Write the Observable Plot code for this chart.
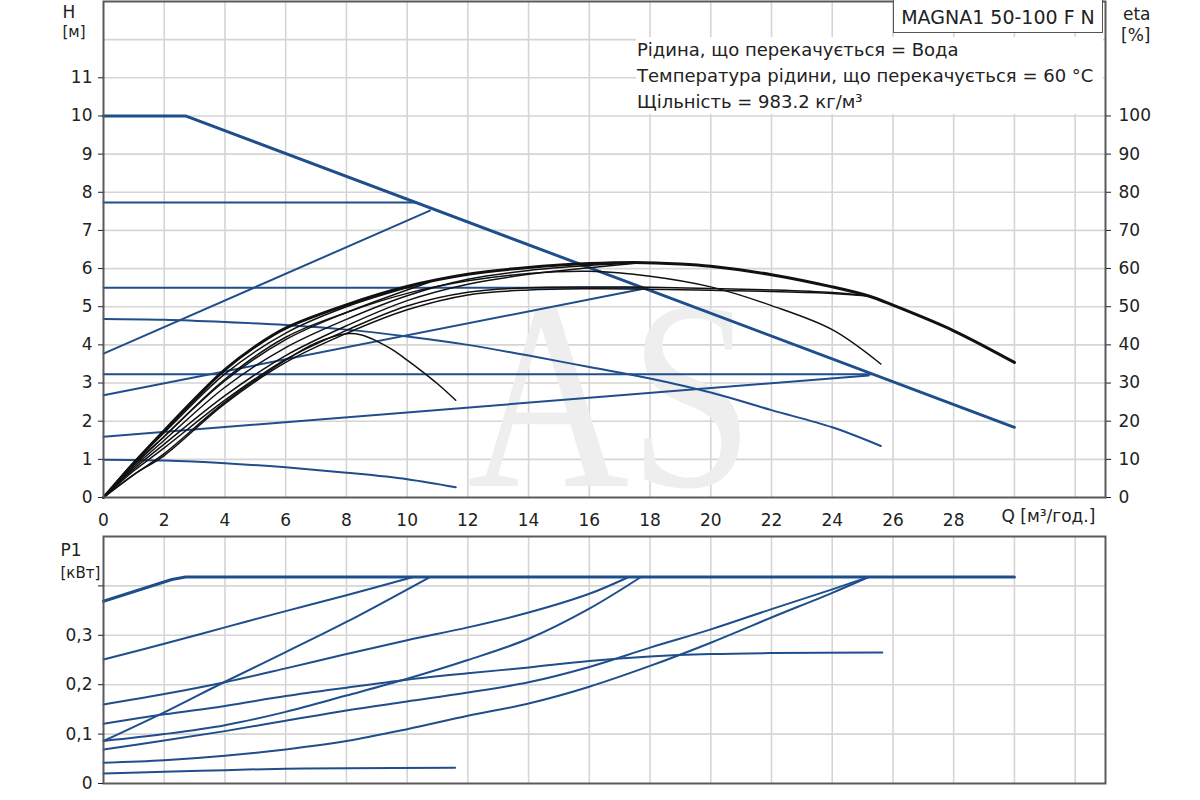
<!DOCTYPE html>
<html><head><meta charset="utf-8">
<script src="https://cdn.jsdelivr.net/npm/d3@7"></script>
<script src="https://cdn.jsdelivr.net/npm/@observablehq/plot@0.6"></script>
<style>
html,body{margin:0;padding:0;background:#fff;}
#wrap{position:relative;width:1200px;height:800px;overflow:hidden;font-family:"DejaVu Sans",Verdana,sans-serif;color:#222;}
#wrap svg{display:block;}
#info{position:absolute;left:636px;top:37px;width:467px;height:77px;background:#fff;font-size:18px;line-height:26px;color:#222;white-space:nowrap;}
#info div{padding-left:1px;}
#title{position:absolute;left:893px;top:0px;width:208px;height:32px;background:#fff;border:1.5px solid #555;border-top:none;font-size:19px;line-height:34px;text-align:center;color:#222;white-space:nowrap;}
</style></head>
<body><div id="wrap"></div>
<script>
// ---------- ticks ----------
const Q_TICKS = [0,2,4,6,8,10,12,14,16,18,20,22,24,26,28];
const Q_GRID = [2,4,6,8,10,12,14,16,18,20,22,24,26,28,30,32];
const H_TICKS = [0,1,2,3,4,5,6,7,8,9,10,11];
const H_GRID = [1,2,3,4,5,6,7,8,9,10,11,12];
const ETA_TICKS = [0,10,20,30,40,50,60,70,80,90,100];
const P_TICKS = [0,0.1,0.2,0.3,0.4];
const P_TICK_LABELS = ["0","0,1","0,2","0,3",""];
const P_GRID = [0.1,0.2,0.3,0.4];

// ---------- H curves (Q, H) ----------
const hMax    = [[0,10],[2.7,10],[30,1.84]];
const hConst1 = [[0,7.73],[10.3,7.73]];
const hProp1  = [[0,3.77],[10.75,7.52]];
const hConst2 = [[0,5.5],[17.7,5.5]];
const hProp2  = [[0,2.68],[17.7,5.46]];
const hConst3 = [[0,3.23],[25.3,3.23]];
const hProp3  = [[0,1.59],[25.2,3.2]];
const hSpeed1 = [[0,4.68],[2,4.66],[4,4.6],[6,4.52],[8,4.4],[10,4.22],[12,4.0],[14,3.72],[16,3.42],[18,3.12],[20,2.75],[22,2.29],[24,1.84],[25.6,1.35]];
const hSpeed2 = [[0,0.99],[2,0.97],[4,0.9],[6,0.79],[8,0.65],[10,0.48],[11.6,0.27]];

// ---------- eta curves (Q, eta %) ----------
const etaMax    = [[0,0],[1,9],[2,17.5],[3,25.8],[4,33.5],[5,39.6],[6,44.4],[8,50.5],[10,55.3],[12,58.5],[14,60.3],[16,61.3],[17.5,61.6],[19,61.2],[20,60.6],[22,58.4],[24,55.2],[25.2,52.8],[26,50.4],[28,43.7],[30,35.4]];
const etaConst1 = [[0,0],[1,9.3],[2,17],[4,32.4],[6,43.1],[8,50],[10.3,55.7]];
const etaProp1  = [[0,0],[1,8.5],[2,16],[4,30.6],[6,41.4],[8,48.5],[10.75,56.5]];
const etaConst2 = [[0,0],[1,8],[2,15],[4,28.9],[6,39.3],[8,46.7],[10,52.9],[12,57.2],[14,59.5],[16,60.8],[17.7,61.5]];
const etaProp2  = [[0,0],[1,7.5],[2,14],[4,26.7],[6,37.2],[8,45],[10,51.6],[12,55.9],[14,58.5],[16,60.2],[17.7,61.5]];
const etaConst3 = [[0,0],[1,7],[2,13],[4,25.5],[6,36.2],[8,43.8],[10,50.2],[12,53.8],[14,55],[16,55.2],[18,55.1],[20,54.8],[22,54.4],[24,53.7],[25.2,52.8]];
const etaProp3  = [[0,0],[1,6],[2,11],[4,24.6],[6,35.4],[8,43],[10,49.2],[12,53.1],[14,54.4],[16,54.7],[18,54.6],[20,54.3],[22,54],[24,53.5],[25.2,52.8]];
const etaSpeed1 = [[0,0],[1,8.5],[2,16],[4,31],[6,42],[8,48.5],[10,53.5],[12,56.8],[14,58.7],[16,59.3],[18,58],[20,55.2],[22,50.3],[24,44],[25.6,35]];
const etaSpeed2 = [[0,0],[1,6],[2,11.5],[4,25],[6,36],[7,40.5],[8,42.9],[8.5,42.6],[9,41],[9.5,38.8],[10,36],[10.5,33],[11,29.8],[11.6,25.5]];

// ---------- P1 curves (Q, kW) ----------
const pMax    = [[0,0.369],[2.25,0.413],[2.7,0.418],[30,0.418]];
const pConst1 = [[0,0.251],[2,0.283],[4,0.316],[6,0.349],[8,0.381],[10.2,0.418]];
const pProp1  = [[0,0.086],[2,0.144],[4,0.206],[6,0.266],[8,0.327],[10.75,0.418]];
const pConst2 = [[0,0.16],[2,0.181],[4,0.205],[6,0.233],[8,0.262],[10,0.29],[12,0.316],[14,0.346],[16,0.384],[17.3,0.418]];
const pProp2  = [[0,0.086],[2,0.1],[4,0.118],[6,0.145],[8,0.178],[10,0.212],[12,0.25],[14,0.293],[16,0.354],[17.7,0.418]];
const pConst3 = [[0,0.069],[2,0.087],[4,0.106],[6,0.127],[8,0.148],[10,0.166],[12,0.184],[14,0.205],[16,0.236],[18,0.275],[20,0.312],[22,0.353],[24,0.393],[25.2,0.418]];
const pProp3  = [[0,0.042],[2,0.047],[4,0.056],[6,0.069],[8,0.086],[10,0.11],[12,0.137],[14,0.162],[16,0.196],[18,0.238],[20,0.285],[22,0.336],[24,0.386],[25.2,0.418]];
const pSpeed1 = [[0,0.121],[2,0.14],[4,0.157],[6,0.177],[8,0.194],[10,0.21],[12,0.223],[14,0.235],[16,0.248],[18,0.257],[20,0.262],[22,0.264],[25.65,0.265]];
const pSpeed2 = [[0,0.02],[2,0.024],[4,0.027],[6,0.03],[8,0.031],[11.58,0.032]];

const TITLE = "MAGNA1 50-100 F N";
const INFO = ["Рідина, що перекачується = Вода","Температура рідини, що перекачується = 60 °C","Щільність = 983.2 кг/м³"];

// ---------- build rows ----------
function rows(series){ const out=[]; for(const [name,arr] of Object.entries(series)) for(const [q,v] of arr) out.push({s:name,q,v}); return out; }
const hRows = rows({hConst1,hProp1,hConst2,hProp2,hConst3,hProp3,hSpeed1,hSpeed2});
const hMaxRows = rows({hMax});
const eRows = rows({etaConst1,etaProp1,etaConst2,etaProp2,etaConst3,etaProp3,etaSpeed1,etaSpeed2});
const eMaxRows = rows({etaMax});
const pRows = rows({pConst1,pProp1,pConst2,pProp2,pConst3,pProp3,pSpeed1,pSpeed2});
const pMaxRows = rows({pMax});

const BLUE = "#1f4e8c", BLACK = "#111", GRID = "#d5d5d5", FRAME = "#5a5a5a";
const FONT = "DejaVu Sans, Verdana, sans-serif";

const topPlot = Plot.plot({
  width:1200, height:530, marginLeft:103, marginRight:95, marginTop:1, marginBottom:33,
  style:{fontFamily:FONT, fontSize:"17px", color:"#222", background:"transparent", overflow:"visible"},
  x:{domain:[0,33]}, y:{domain:[0,13]},
  marks:[
    Plot.gridX(Q_GRID, {stroke:GRID, strokeOpacity:1, strokeWidth:1.6}),
    Plot.gridY(H_GRID, {stroke:GRID, strokeOpacity:1, strokeWidth:1.6}),
    Plot.text(["AS"], {text:d=>d, frameAnchor:"middle", dx:6, dy:150, fontSize:270, fontFamily:"Liberation Serif, serif", fill:"#eeeeee"}),
    Plot.line(hRows, {x:"q", y:"v", z:"s", stroke:BLUE, strokeWidth:2, curve:"catmull-rom"}),
    Plot.line(hMaxRows, {x:"q", y:"v", stroke:BLUE, strokeWidth:3, curve:"linear"}),
    Plot.line(eRows, {x:"q", y:d=>d.v/10, z:"s", stroke:BLACK, strokeWidth:1.5, curve:"catmull-rom"}),
    Plot.line(eMaxRows, {x:"q", y:d=>d.v/10, stroke:BLACK, strokeWidth:3, curve:"catmull-rom"}),
    Plot.frame({stroke:FRAME, strokeWidth:2}),
    Plot.axisY(H_TICKS, {anchor:"left", tickSize:5, tickPadding:6, label:null, fontSize:17}),
    Plot.axisY(ETA_TICKS.map(d=>d/10), {anchor:"right", tickSize:5, tickPadding:8, label:null, fontSize:17, tickFormat:d=>String(Math.round(d*10))}),
    Plot.axisX(Q_TICKS, {anchor:"bottom", tickSize:0, tickPadding:16, label:null, fontSize:17}),
    Plot.text(["Q [м³/год.]"], {text:d=>d, frameAnchor:"bottom-right", textAnchor:"start", dx:-104, dy:24, fontSize:17}),
    Plot.text(["H"], {text:d=>d, frameAnchor:"top-left", dx:-41, dy:4, fontSize:17}),
    Plot.text(["[м]"], {text:d=>d, frameAnchor:"top-left", dx:-41, dy:25, fontSize:15}),
    Plot.text(["eta"], {text:d=>d, frameAnchor:"top-right", dx:45, dy:6, fontSize:17}),
    Plot.text(["[%]"], {text:d=>d, frameAnchor:"top-right", dx:45, dy:27, fontSize:17})
  ]
});

const botPlot = Plot.plot({
  width:1200, height:270, marginLeft:103, marginRight:95, marginTop:6, marginBottom:17,
  style:{fontFamily:FONT, fontSize:"17px", color:"#222", background:"transparent", overflow:"visible"},
  x:{domain:[0,33], axis:null}, y:{domain:[0,0.5]},
  marks:[
    Plot.gridX(Q_GRID, {stroke:GRID, strokeOpacity:1, strokeWidth:1.6}),
    Plot.gridY(P_GRID, {stroke:GRID, strokeOpacity:1, strokeWidth:1.6}),
    Plot.line(pRows, {x:"q", y:"v", z:"s", stroke:BLUE, strokeWidth:2, curve:"catmull-rom"}),
    Plot.line(pMaxRows, {x:"q", y:"v", stroke:BLUE, strokeWidth:3, curve:"linear"}),
    Plot.frame({stroke:FRAME, strokeWidth:2}),
    Plot.axisY(P_TICKS, {anchor:"left", tickSize:5, tickPadding:6, label:null, fontSize:17, tickFormat:d=>P_TICK_LABELS[P_TICKS.indexOf(d)]}),
    Plot.text(["P1"], {text:d=>d, frameAnchor:"top-left", dx:-43, dy:7, fontSize:17}),
    Plot.text(["[кВт]"], {text:d=>d, frameAnchor:"top-left", dx:-43, dy:31, fontSize:15})
  ]
});

const wrap = document.getElementById("wrap");
wrap.appendChild(topPlot);
wrap.appendChild(botPlot);

// watermark: narrow the letters
d3.select(topPlot).selectAll("text").filter(function(){return this.textContent==="AS";}).each(function(){
  const b = this.getBBox(); const cx=b.x+b.width/2, cy=b.y+b.height/2;
  const t = this.getAttribute("transform")||"";
  this.setAttribute("transform", t+` translate(${cx},${cy}) scale(0.83,1) translate(${-cx},${-cy})`);
});

const title = document.createElement("div"); title.id="title"; title.textContent=TITLE; wrap.appendChild(title);
const info = document.createElement("div"); info.id="info";
INFO.forEach(s=>{const d=document.createElement("div"); d.textContent=s; info.appendChild(d);});
wrap.appendChild(info);
</script></body></html>
